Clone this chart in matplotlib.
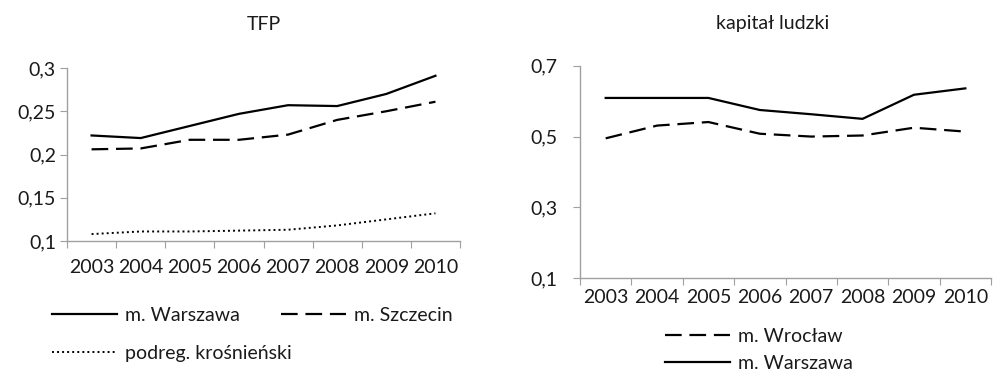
import numpy as np
import matplotlib
matplotlib.use("Agg")
import matplotlib.pyplot as plt

plt.rcParams['font.family'] = ['Lato', 'DejaVu Sans']

years = ['2003', '2004', '2005', '2006', '2007', '2008', '2009', '2010']

# TFP
tfp_warszawa = [0.222, 0.219, 0.233, 0.247, 0.257, 0.256, 0.270, 0.291]
tfp_szczecin = [0.206, 0.207, 0.217, 0.217, 0.223, 0.240, 0.250, 0.261]
tfp_krosnienski = [0.108, 0.111, 0.111, 0.112, 0.113, 0.118, 0.125, 0.132]

# kapitał ludzki
kl_wroclaw = [0.495, 0.531, 0.541, 0.508, 0.500, 0.503, 0.525, 0.514]
kl_warszawa = [0.609, 0.609, 0.609, 0.575, 0.563, 0.550, 0.618, 0.636]

W, H = 993, 373
fig = plt.figure(figsize=(W / 100, H / 100), dpi=100)

TXT = '#1a1a1a'
AX = '#a0a0a0'
FS = 14


def px_axes(x0, y0, x1, y1):
    return fig.add_axes([x0 / W, 1 - y1 / H, (x1 - x0) / W, (y1 - y0) / H])


def style(ax, yticks, ylim, ypad, xpad):
    for s in ('top', 'right'):
        ax.spines[s].set_visible(False)
    for s in ('left', 'bottom'):
        ax.spines[s].set_color(AX)
        ax.spines[s].set_linewidth(1.0)
    ax.set_xlim(0, len(years))
    ax.set_ylim(*ylim)
    ax.set_xticks(np.arange(len(years) + 1))
    ax.set_xticklabels([])
    ax.set_xticks(np.arange(len(years)) + 0.5, minor=True)
    ax.set_xticklabels(years, minor=True, fontsize=FS, color=TXT)
    ax.tick_params(axis='x', which='major', length=5, color=AX, direction='out')
    ax.tick_params(axis='x', which='minor', length=0, pad=xpad)
    ax.set_yticks(yticks)
    ax.set_yticklabels([f'{v:g}'.replace('.', ',') for v in yticks],
                       fontsize=FS, color=TXT)
    ax.tick_params(axis='y', length=5, color=AX, pad=ypad)


def legend(handles, labels, x, y, **kw):
    leg = fig.legend(handles, labels, loc='upper left',
                     bbox_to_anchor=(x / W, 1 - y / H), frameon=False,
                     fontsize=FS, handlelength=3.35, handletextpad=0.4,
                     borderpad=0, borderaxespad=0, labelcolor=TXT, **kw)
    return leg


xc = np.arange(len(years)) + 0.5
dash = (0, (7.5, 3.5))
dot = (0, (1, 1.6))

# left panel: TFP
ax1 = px_axes(67, 68, 460, 241)
style(ax1, [0.1, 0.15, 0.2, 0.25, 0.3], (0.1, 0.3), 3, 13)
l1, = ax1.plot(xc, tfp_warszawa, color='black', lw=1.6, label='m. Warszawa',
               clip_on=False)
l2, = ax1.plot(xc, tfp_szczecin, color='black', lw=1.6, linestyle=dash,
               label='m. Szczecin', clip_on=False)
l3, = ax1.plot(xc, tfp_krosnienski, color='black', lw=1.4, linestyle=dot,
               label='podreg. krośnieński', clip_on=False)
fig.text(263.5 / W, 1 - 24 / H, 'TFP', ha='center', va='center',
         fontsize=FS, color=TXT)
legend([l1, l2], ['m. Warszawa', 'm. Szczecin'], 52, 307, ncol=2,
       columnspacing=2.1)
legend([l3], ['podreg. krośnieński'], 52, 345)

# right panel: kapitał ludzki
ax2 = px_axes(580, 65.7, 991, 278.3)
style(ax2, [0.1, 0.3, 0.5, 0.7], (0.1, 0.7), 11, 8)
r1, = ax2.plot(xc, kl_wroclaw, color='black', lw=1.6, linestyle=dash,
               label='m. Wrocław', clip_on=False)
r2, = ax2.plot(xc, kl_warszawa, color='black', lw=1.6, label='m. Warszawa',
               clip_on=False)
fig.text(773 / W, 1 - 24 / H, 'kapitał ludzki', ha='center', va='center',
         fontsize=FS, color=TXT)
legend([r1, r2], ['m. Wrocław', 'm. Warszawa'], 665, 328, labelspacing=0.5)

fig.savefig('out.png', dpi=100, facecolor='white')
